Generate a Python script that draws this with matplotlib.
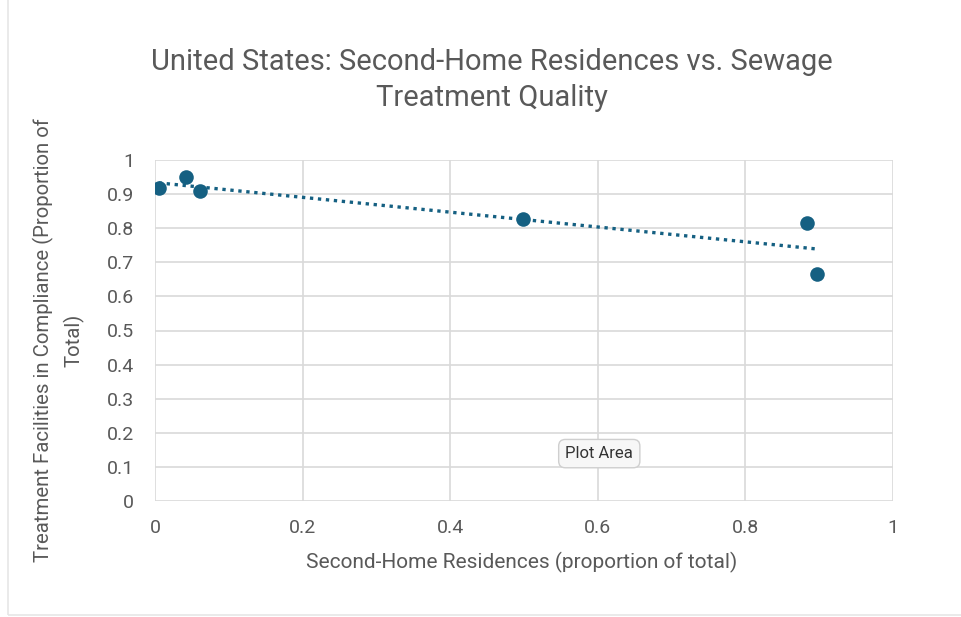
import numpy as np
import matplotlib
matplotlib.use("Agg")
import matplotlib.pyplot as plt
from matplotlib.patches import Rectangle

# Second-home share vs. share of compliant treatment facilities
second_home = [0.005, 0.042, 0.061, 0.499, 0.883, 0.897]
compliance = [0.918, 0.950, 0.909, 0.827, 0.815, 0.666]

x_ticks = [0, 0.2, 0.4, 0.6, 0.8, 1]
x_tick_labels = ["0", "0.2", "0.4", "0.6", "0.8", "1"]
y_ticks = [0, 0.1, 0.2, 0.3, 0.4, 0.5, 0.6, 0.7, 0.8, 0.9, 1]
y_tick_labels = ["0", "0.1", "0.2", "0.3", "0.4", "0.5", "0.6", "0.7", "0.8", "0.9", "1"]

title = "United States: Second-Home Residences vs. Sewage\nTreatment Quality"
x_label = "Second-Home Residences (proportion of total)"
y_label = "Treatment Facilities in Compliance (Proportion of\nTotal)"

plt.rcParams["font.family"] = ["Roboto", "DejaVu Sans"]
text_gray = "#595959"
grid_gray = "#d9d9d9"
point_color = "#156082"

fig = plt.figure(figsize=(9.61, 6.17), dpi=100)
ax = fig.add_axes([155 / 961, 1 - 501 / 617, (893 - 155) / 961, (501 - 160) / 617])

# Chart area outline
fig.patches.append(Rectangle((8 / 961, 2 / 617), 1.2, 1.2, transform=fig.transFigure,
                             fill=False, edgecolor="#e6e6e6", linewidth=1.2))

ax.set_xlim(0, 1)
ax.set_ylim(0, 1)
ax.set_xticks(x_ticks)
ax.set_xticklabels(x_tick_labels)
ax.set_yticks(y_ticks)
ax.set_yticklabels(y_tick_labels)
ax.grid(True, color=grid_gray, linewidth=1.2)
ax.set_axisbelow(True)
for s in ax.spines.values():
    s.set_visible(False)
ax.tick_params(length=0, colors=text_gray, labelsize=14)
ax.tick_params(axis="x", pad=13)
ax.tick_params(axis="y", pad=15)

# Linear trendline
xs = np.array(second_home)
ys = np.array(compliance)
slope, intercept = np.polyfit(xs, ys, 1)
tx = np.array([xs.min(), xs.max()])
ax.plot(tx, slope * tx + intercept, linestyle=(0, (1, 1.4)), color=point_color,
        linewidth=2.4, zorder=2)

ax.scatter(second_home, compliance, s=110, color=point_color, zorder=3, linewidths=0)

fig.text(492 / 961, 1 - 80 / 617, title, ha="center", va="center", color=text_gray,
         fontsize=21, linespacing=1.4)
fig.text(522 / 961, 1 - 562 / 617, x_label, ha="center", va="center", color=text_gray,
         fontsize=15)
fig.text(59 / 961, 1 - 340 / 617, y_label, ha="center", va="center", color=text_gray,
         fontsize=14.7, rotation=90, linespacing=1.55)

# Hover tag over the plot area
ax.text(0.602, 0.139, "Plot Area", ha="center", va="center", fontsize=12, color="#333333",
        bbox=dict(boxstyle="round,pad=0.4", facecolor="#f7f7f7", edgecolor="#cfcfcf",
                  linewidth=1), zorder=5)

fig.savefig("out.png", dpi=100, facecolor="white")
